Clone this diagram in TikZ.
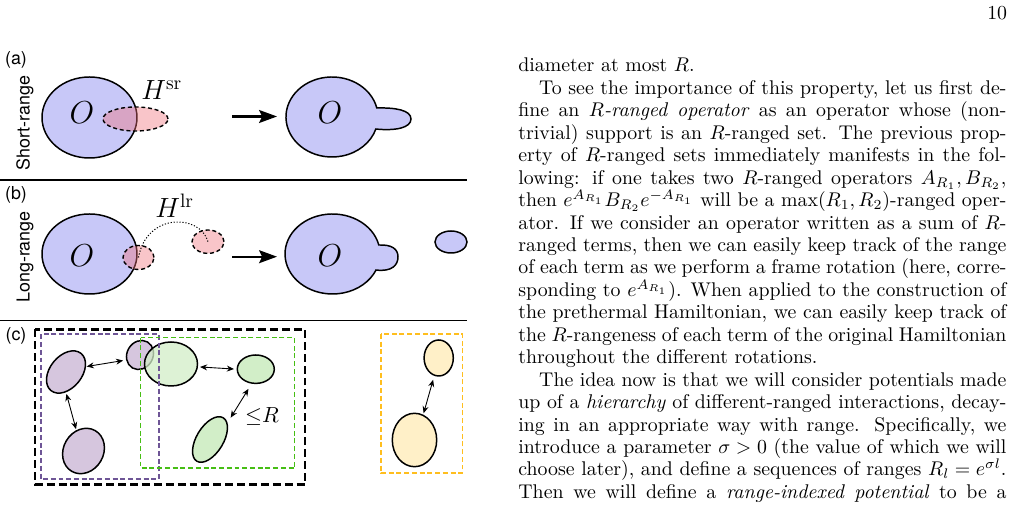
\documentclass[tikz,border=0pt]{standalone}
\usepackage{fix-cm}
\usepackage{fontspec}
\newfontfamily\labfont{TeX Gyre Heros}
\usetikzlibrary{arrows.meta,shapes.geometric}
\definecolor{bluefill}{RGB}{200,200,248}
\definecolor{pinkfill}{RGB}{240,110,120}
\definecolor{purfill}{RGB}{214,198,222}
\definecolor{grnfill}{RGB}{210,238,200}
\definecolor{orgfill}{RGB}{255,240,200}
\definecolor{purdash}{RGB}{110,85,150}
\definecolor{grndash}{RGB}{70,190,20}
\definecolor{orgdash}{RGB}{255,190,30}
\newcommand\jline[1]{\hbox to\hsize{#1}}
\newcommand\iline[1]{\hbox to\hsize{\hskip10.5pt #1}}
\newcommand\eline[1]{\hbox{#1}}
\begin{document}
\begin{tikzpicture}[x=0.504pt,y=-0.504pt,
  sz/.style 2 args={minimum width=#1*1.008pt, minimum height=#2*1.008pt},
  blob/.style={draw=black, line width=0.75pt, fill=bluefill},
  blobell/.style={blob, ellipse, inner sep=0pt},
  pinkell/.style={ellipse, inner sep=0pt, draw=black, dash pattern=on 2pt off 1.4pt, line width=0.7pt, fill=pinkfill, fill opacity=0.4},
  cell/.style={ellipse, inner sep=0pt, draw=black, line width=0.75pt},
  bigarrow/.style={-{Stealth[length=9pt,width=6.5pt,inset=1.5pt]}, line width=1.1pt},
  dblarrow/.style={{Stealth[length=3.6pt,width=3pt]}-{Stealth[length=3.6pt,width=3pt]}, line width=0.45pt},
  sepline/.style={line width=0.8pt},
  panellab/.style={font=\labfont\fontsize{9}{10}\selectfont, inner sep=0pt},
  bigmath/.style={font=\fontsize{16}{16}\selectfont, inner sep=0pt},
  hmath/.style={font=\fontsize{14}{14}\selectfont, inner sep=0pt, anchor=base west},
  blackbox/.style={line width=1.3pt, dash pattern=on 4pt off 2pt},
  colbox/.style={line width=0.8pt, dash pattern=on 2.5pt off 1.4pt}
]
\fill[white] (0,0) rectangle (1015,513);
\useasboundingbox (0,0) rectangle (1015,513);

% ---------------- panel (a)
\node[panellab] (la) at (16,60) {(a)};
\node[panellab, rotate=90] (sr) at (25,123) {Short-range};
\node[blobell, sz={47.5}{40.5}] (Oa) at (89.5,117.5) {};
\node[pinkell, sz={32.5}{12}] (Ha) at (135.5,119) {};
\node[bigmath] (Oatext) at (82,113) {$O$};
\node[hmath] (Hsr) at (141,100) {$H^{\mathrm{sr}}$};
\coordinate (aS) at (232,116.5);
\coordinate (aE) at (277,116.5);
\draw[bigarrow] (aS) -- (aE);
\draw[blob] (376.8,108) arc[start angle=-13, end angle=-342.5, x radius=46, y radius=40]
  .. controls (395,131) and (411,128) .. (411,119)
  .. controls (411,110) and (395,107.5) .. cycle;
\node[bigmath] (Oa2text) at (330,113) {$O$};
\draw[sepline] (0,180) -- (467,180);

% ---------------- panel (b)
\node[panellab] (lb) at (16,195) {(b)};
\node[panellab, rotate=90] (lr) at (25,257) {Long-range};
\node[blobell, sz={47.5}{40}] (Ob) at (89.5,254) {};
\node[pinkell, sz={15.5}{12}] (Hb1) at (138.5,257.5) {};
\node[pinkell, sz={16}{11.7}] (Hb2) at (208,241.7) {};
\draw[line width=0.5pt, dash pattern=on 0.6pt off 0.9pt] (Hb1.center) .. controls +(8,-45) and +(-8,-28) .. (Hb2.center);
\node[bigmath] (Obtext) at (82,256) {$O$};
\node[hmath] (Hlr) at (155,218) {$H^{\mathrm{lr}}$};
\coordinate (bS) at (232,256.7);
\coordinate (bE) at (277,256.7);
\draw[bigarrow] (bS) -- (bE);
\draw[blob] (378.8,245) arc[start angle=-13, end angle=-336.4, x radius=47.5, y radius=40]
  .. controls (392,272) and (398,265) .. (398,257)
  .. controls (398,249) and (392,244.5) .. cycle;
\node[bigmath] (Ob2text) at (330,256) {$O$};
\node[blobell, sz={16}{11}] (Ob2) at (451,242) {};
\draw[sepline] (0,320.7) -- (467,320.7);

% ---------------- panel (c)
\node[panellab] (lc) at (16,336) {(c)};
\node[cell, fill=purfill, sz={23.9}{16}, rotate=51] (p1) at (66,372) {};
\node[cell, fill=purfill, sz={15}{13}, rotate=60] (p2) at (140,355) {};
\node[cell, fill=purfill, sz={23.5}{20}, rotate=60] (p3) at (83.5,451) {};
\node[cell, fill=grnfill, fill opacity=0.75, sz={26.5}{22}] (g1) at (171,364) {};
\node[cell, fill=grnfill, sz={18.5}{14.2}] (g2) at (255.8,369.2) {};
\node[cell, fill=grnfill, sz={25.4}{13.4}, rotate=58.7] (g3) at (210,439.5) {};
\node[cell, fill=orgfill, sz={14.6}{18}] (o1) at (438.7,358) {};
\node[cell, fill=orgfill, sz={22.2}{26.7}] (o2) at (414.5,440) {};

\draw[blackbox] (35,329.3) rectangle (305,484.3);
\draw[colbox, draw=purdash] (41,334.3) rectangle (159,479.3);
\draw[colbox, draw=grndash] (140.7,337.7) rectangle (294.7,468.3);
\draw[colbox, draw=orgdash] (381,334) rectangle (462.3,473.3);

\draw[dblarrow, shorten <=0.3pt, shorten >=1.5pt] (p1.-36) -- (p2.140);
\draw[dblarrow, shorten <=0.8pt, shorten >=0.5pt] (p1.219) -- (p3.49);
\draw[dblarrow, shorten <=1pt, shorten >=1.3pt] (g1.-6.7) -- (g2.180);
\draw[dblarrow, shorten <=3pt, shorten >=3pt] (g2.254) -- (g3.-15);
\draw[dblarrow, shorten <=2pt, shorten >=0.7pt] (o1.256.6) -- (o2.71.8);
\node[font=\fontsize{11}{11}\selectfont, inner sep=0pt] (leR) at (262,416.5) {${\le}R$};

% ---------------- page text
\node[anchor=base east, inner sep=0pt, font=\fontsize{10pt}{12pt}\selectfont] (pg) at (1007.5,20) {10};
\node[anchor=base west, inner sep=0pt] (body) at (518,72) {\parbox[t]{246pt}{%
\fontsize{10pt}{11.31pt}\selectfont\baselineskip=11.31pt\lineskiplimit=-10pt
\eline{diameter at most $R$.}
\iline{To see the importance of this property, let us first de-}
\jline{fine an \emph{$R$-ranged operator} as an operator whose (non-}
\jline{trivial) support is an $R$-ranged set. The previous prop-}
\jline{erty of $R$-ranged sets immediately manifests in the fol-}
\jline{lowing: if one takes two $R$-ranged operators $A_{R_1}, B_{R_2}$,}
\jline{then $e^{A_{R_1}}B_{R_2}e^{-A_{R_1}}$ will be a $\max(R_1,R_2)$-ranged oper-}
\jline{ator. If we consider an operator written as a sum of $R$-}
\jline{ranged terms, then we can easily keep track of the range}
\jline{of each term as we perform a frame rotation (here, corre-}
\jline{sponding to $e^{A_{R_1}}$). When applied to the construction of}
\jline{the prethermal Hamiltonian, we can easily keep track of}
\jline{the $R$-rangeness of each term of the original Hamiltonian}
\eline{throughout the different rotations.}
\iline{The idea now is that we will consider potentials made}
\jline{up of a \emph{hierarchy} of different-ranged interactions, decay-}
\jline{ing in an appropriate way with range. Specifically,\ we}
\jline{introduce a parameter $\sigma>0$ (the value of which we will}
\jline{choose later), and define a sequences of ranges $R_l=e^{\sigma l}$.}
\jline{Then we will define a \emph{range-indexed potential} to be a}%
}};
\end{tikzpicture}
\end{document}
